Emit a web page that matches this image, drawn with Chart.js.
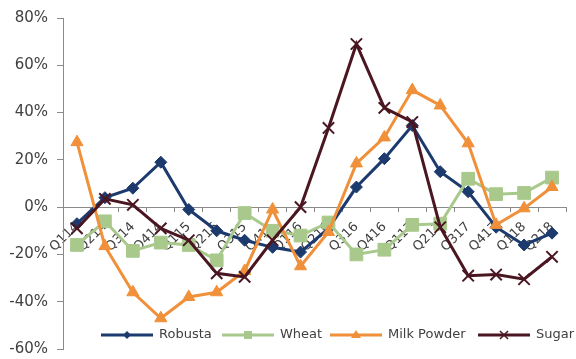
<!DOCTYPE html>
<html>
<head>
<meta charset="utf-8">
<script src="https://cdn.jsdelivr.net/npm/chart.js@4.4.1/dist/chart.umd.min.js"></script>
<style>
    html, body { margin: 0; padding: 0; background: #fff; }
    #wrap { width: 576px; height: 359px; position: relative; }
</style>
</head>
<body>
<div id="wrap"><canvas id="priceChart"></canvas></div>
<script>
const quarters = ['Q114', 'Q214', 'Q314', 'Q414', 'Q115', 'Q215', 'Q315', 'Q415', 'Q116',
    'Q216', 'Q316', 'Q416', 'Q117', 'Q217', 'Q317', 'Q417', 'Q118', 'Q218'];

// year-on-year change, %
const robusta = [-7, 4, 8, 19, -1, -10, -14, -17, -19, -9, 8.5, 20.5, 34.5, 15, 6.5, -8.5, -16, -11];
const wheat = [-16, -6, -18.5, -15, -16, -22.5, -2.5, -10, -12, -6.5, -20, -18, -7.5, -7, 12, 5.5, 6, 12.5];
const milkPowder = [27.5, -16.5, -36, -47, -38, -36, -27, -1, -25, -10.5, 18.5, 29.5, 49.5, 43, 27, -7.5, -0.5, 8.5];
const sugar = [-9, 3.5, 1, -9, -14, -28, -29.5, -14, 0, 33.5, 69, 42, 36, -8.5, -29, -28.5, -30.5, -21];

const yTicks = [-60, -40, -20, 0, 20, 40, 60, 80];

const colors = {
    robusta: '#1c3a6e',
    wheat: '#a9c98c',
    milk: '#f0903a',
    sugar: '#4a1621'
};
const axisColor = '#8a8a8a';
const textColor = '#404040';
const fontFamily = '"DejaVu Sans", Verdana, sans-serif';

// legend drawn over the bottom of the plot, like the original
const legendItems = [
    {text: 'Robusta', color: colors.robusta, marker: 'diamond', x: 101},
    {text: 'Wheat', color: colors.wheat, marker: 'square', x: 222},
    {text: 'Milk Powder', color: colors.milk, marker: 'triangle', x: 330},
    {text: 'Sugar', color: colors.sugar, marker: 'cross', x: 478}
];

function drawMarker(ctx, type, x, y, color) {
    ctx.save();
    ctx.fillStyle = color;
    ctx.strokeStyle = color;
    ctx.beginPath();
    if (type === 'diamond') {
        ctx.moveTo(x, y - 4); ctx.lineTo(x + 4, y); ctx.lineTo(x, y + 4); ctx.lineTo(x - 4, y);
        ctx.closePath(); ctx.fill();
    } else if (type === 'square') {
        ctx.fillRect(x - 4, y - 4, 8, 8);
    } else if (type === 'triangle') {
        ctx.moveTo(x, y - 5); ctx.lineTo(x + 5, y + 3); ctx.lineTo(x - 5, y + 3);
        ctx.closePath(); ctx.fill();
    } else if (type === 'cross') {
        ctx.lineWidth = 1.5;
        ctx.moveTo(x - 4, y - 4); ctx.lineTo(x + 4, y + 4);
        ctx.moveTo(x + 4, y - 4); ctx.lineTo(x - 4, y + 4);
        ctx.stroke();
    }
    ctx.restore();
}

const overlayLegend = {
    id: 'overlayLegend',
    afterDraw(chart) {
        const ctx = chart.ctx;
        const y = 335;
        ctx.save();
        ctx.fillStyle = '#ffffff';
        ctx.fillRect(96, 325, 478, 20);
        ctx.font = '13px ' + fontFamily;
        ctx.textBaseline = 'middle';
        ctx.textAlign = 'left';
        legendItems.forEach(item => {
            ctx.strokeStyle = item.color;
            ctx.lineWidth = 3;
            ctx.beginPath();
            ctx.moveTo(item.x, y);
            ctx.lineTo(item.x + 52, y);
            ctx.stroke();
            drawMarker(ctx, item.marker, item.x + 26, y, item.color);
            ctx.fillStyle = textColor;
            ctx.fillText(item.text, item.x + 58, y);
        });
        ctx.restore();
    }
};

function makeDataset(label, data, color, style, radius, order) {
    return {
        label: label,
        data: data,
        borderColor: color,
        backgroundColor: color,
        borderWidth: 3,
        pointStyle: style,
        pointRadius: radius,
        pointHoverRadius: radius,
        pointBorderWidth: style === 'crossRot' ? 2 : 1,
        pointBackgroundColor: color,
        pointBorderColor: color,
        tension: 0,
        fill: false,
        order: order
    };
}

new Chart(document.getElementById('priceChart'), {
    type: 'line',
    data: {
        labels: quarters,
        datasets: [
            makeDataset('Robusta', robusta, colors.robusta, 'rectRot', 6, 3),
            makeDataset('Wheat', wheat, colors.wheat, 'rect', 9, 2),
            makeDataset('Milk Powder', milkPowder, colors.milk, 'triangle', 7, 1),
            makeDataset('Sugar', sugar, colors.sugar, 'crossRot', 8, 0)
        ]
    },
    options: {
        responsive: true,
        maintainAspectRatio: false,
        animation: false,
        layout: {padding: {top: 18, bottom: 10, left: 0, right: 0}},
        plugins: {
            legend: {display: false},
            tooltip: {enabled: false}
        },
        scales: {
            x: {
                type: 'category',
                position: {y: 0},
                offset: true,
                grid: {
                    display: true,
                    drawOnChartArea: false,
                    drawTicks: true,
                    tickLength: 4,
                    offset: true,
                    color: axisColor
                },
                border: {display: true, color: axisColor, width: 1},
                ticks: {
                    autoSkip: false,
                    minRotation: 45,
                    maxRotation: 45,
                    padding: 8,
                    color: textColor,
                    font: {family: fontFamily, size: 13}
                },
                afterFit(scale) {
                    scale.paddingLeft = 0;
                    scale.paddingRight = 0;
                }
            },
            y: {
                min: -60,
                max: 80,
                afterBuildTicks(scale) {
                    scale.ticks = yTicks.map(v => ({value: v}));
                },
                grid: {
                    display: true,
                    drawOnChartArea: false,
                    drawTicks: true,
                    tickLength: 6,
                    color: axisColor
                },
                border: {display: true, color: axisColor, width: 1},
                ticks: {
                    padding: 9,
                    color: textColor,
                    font: {family: fontFamily, size: 15},
                    callback: value => value + '%'
                },
                afterFit(scale) {
                    scale.width = 63;
                    scale.paddingTop = 0;
                    scale.paddingBottom = 0;
                }
            }
        }
    },
    plugins: [overlayLegend]
});
</script>
</body>
</html>
